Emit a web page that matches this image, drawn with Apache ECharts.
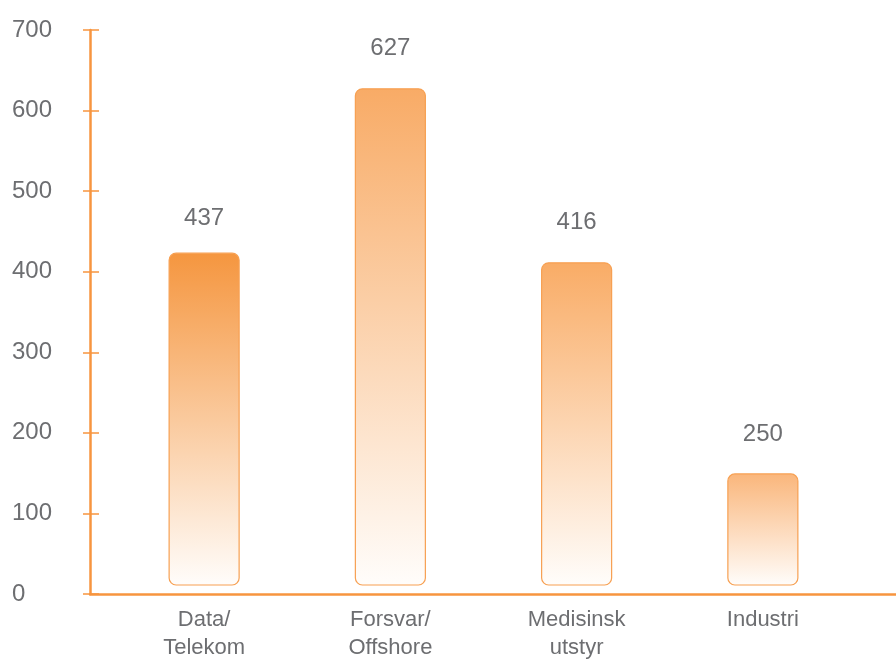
<!DOCTYPE html>
<html>
<head>
<meta charset="utf-8">
<script src="https://cdn.jsdelivr.net/npm/echarts@6/dist/echarts.min.js"></script>
<style>
  html, body { margin: 0; padding: 0; background: #ffffff; }
  #chart { width: 896px; height: 662px; }
</style>
</head>
<body>
<div id="chart"></div>
<script>
// ---- data ----
const categories = ['Data/\nTelekom', 'Forsvar/\nOffshore', 'Medisinsk\nutstyr', 'Industri'];
const barValues = [423, 627, 411, 149];          // bar heights as drawn
const valueLabels = ['437', '627', '416', '250']; // printed labels above bars
const yTicks = [0, 100, 200, 300, 400, 500, 600, 700];

// ---- styles ----
const AXIS = '#F7953F';
const TEXT = '#6d6e71';
const FONT = '"Liberation Sans", Arial, Helvetica, sans-serif';
const topColors = ['#F5963F', '#F8AB66', '#F9AC66', '#FAB67B'];

const chart = echarts.init(document.getElementById('chart'), null, { renderer: 'canvas' });

const yMin = yTicks[0], yMax = yTicks[yTicks.length - 1], yStep = yTicks[1] - yTicks[0];

const option = {
  animation: false,
  backgroundColor: '#ffffff',
  grid: [
    { left: 111, right: 40, top: 30, bottom: 68 },
    { left: 90, right: 0, top: 30, bottom: 68 }
  ],
  xAxis: [
    {
      gridIndex: 0, type: 'category', data: categories,
      axisLine: { show: false }, axisTick: { show: false },
      axisLabel: { color: TEXT, fontSize: 22, fontFamily: FONT, lineHeight: 28, margin: 12, interval: 0 }
    },
    {
      gridIndex: 1, type: 'value', min: 0, max: 1,
      axisLine: { show: true, lineStyle: { color: AXIS, width: 2.5 } },
      axisTick: { show: false }, axisLabel: { show: false }, splitLine: { show: false }
    }
  ],
  yAxis: [
    { gridIndex: 0, type: 'value', min: yMin, max: yMax, interval: yStep, show: false },
    {
      gridIndex: 1, type: 'value', position: 'left', min: yMin, max: yMax, interval: yStep,
      axisLine: { show: true, lineStyle: { color: AXIS, width: 2.5 } },
      axisTick: { show: true, inside: false, length: 7, lineStyle: { color: AXIS, width: 1.5 } },
      axisLabel: { color: TEXT, fontSize: 24, fontFamily: FONT, align: 'left', margin: 78,
                   padding: [0, 0, 5, 0] },
      splitLine: { show: false }
    },
    {
      gridIndex: 1, type: 'value', position: 'left', offset: 0, min: yMin, max: yMax, interval: yStep,
      axisLine: { show: false },
      axisTick: { show: true, inside: true, length: 9, lineStyle: { color: AXIS, width: 1.5 } },
      axisLabel: { show: false }, splitLine: { show: false }
    }
  ],
  series: [
    {
      type: 'custom',
      xAxisIndex: 0, yAxisIndex: 0,
      data: barValues.map((v, i) => [i, v]),
      renderItem: function (params, api) {
        const i = api.value(0);
        const v = api.value(1);
        const top = api.coord([i, v]);
        const base = api.coord([i, 0]);
        const w = 70;
        const x = top[0] - w / 2;
        const y = top[1];
        const h = (base[1] - 9) - y;
        return {
          type: 'group',
          children: [
            {
              type: 'rect',
              shape: { x: x, y: y, width: w, height: h, r: 7 },
              style: {
                fill: new echarts.graphic.LinearGradient(0, 0, 0, 1, [
                  { offset: 0, color: topColors[i] },
                  { offset: 1, color: '#FFFDFB' }
                ]),
                stroke: '#F7A052',
                lineWidth: 1.2
              }
            },
            {
              type: 'text',
              style: {
                text: valueLabels[i],
                x: top[0], y: y - (i === 0 ? 35 : 40),
                align: 'center', verticalAlign: 'middle',
                fill: TEXT,
                font: '24px ' + FONT
              }
            }
          ]
        };
      }
    },
    { type: 'line', xAxisIndex: 1, yAxisIndex: 1, data: [], silent: true }
  ]
};

chart.setOption(option);
</script>
</body>
</html>
